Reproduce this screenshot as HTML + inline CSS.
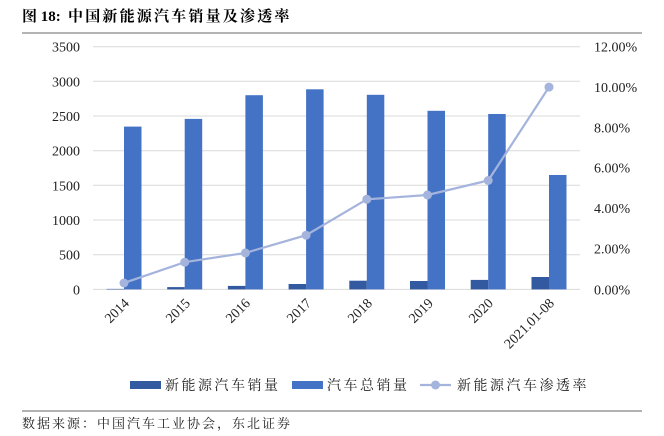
<!DOCTYPE html>
<html><head><meta charset="utf-8"><style>
html,body{margin:0;padding:0;background:#fff;}
svg{display:block;}
</style></head><body>
<svg width="664" height="436" xmlns="http://www.w3.org/2000/svg" font-family="Liberation Serif, 'Noto Serif CJK SC', serif">
<text x="22" y="21" font-size="15" font-weight="bold" font-family="Liberation Serif, 'Noto Serif CJK SC', serif">图 18:<tspan x="68" letter-spacing="2.2">中国新能源汽车销量及渗透率</tspan></text>
<line x1="22" y1="33" x2="642" y2="33" stroke="#888" stroke-width="1.2"/>
<g stroke="#d9d9d9" stroke-width="1">
<line x1="93" y1="46.7" x2="580" y2="46.7"/>
<line x1="93" y1="81.3" x2="580" y2="81.3"/>
<line x1="93" y1="116" x2="580" y2="116"/>
<line x1="93" y1="150.7" x2="580" y2="150.7"/>
<line x1="93" y1="185.3" x2="580" y2="185.3"/>
<line x1="93" y1="220" x2="580" y2="220"/>
<line x1="93" y1="254.7" x2="580" y2="254.7"/>
<line x1="93" y1="289.4" x2="580" y2="289.4"/>
</g>
<g font-size="14" text-anchor="end" fill="#222">
<text x="80" y="51.7">3500</text><text x="80" y="86.3">3000</text><text x="80" y="121">2500</text><text x="80" y="155.7">2000</text><text x="80" y="190.3">1500</text><text x="80" y="225">1000</text><text x="80" y="259.7">500</text><text x="80" y="294.4">0</text>
</g>
<g font-size="14" fill="#222">
<text x="594" y="51.7">12.00%</text><text x="594" y="92">10.00%</text><text x="594" y="132.4">8.00%</text><text x="594" y="172.7">6.00%</text><text x="594" y="213">4.00%</text><text x="594" y="253.4">2.00%</text><text x="594" y="294.4">0.00%</text>
</g>
<g fill="#4472c4">
<rect x="124" y="126.6" width="17.5" height="162.8"/>
<rect x="184.7" y="118.9" width="17.5" height="170.5"/>
<rect x="245.4" y="95.2" width="17.5" height="194.2"/>
<rect x="306.1" y="89.3" width="17.5" height="200.1"/>
<rect x="366.8" y="94.8" width="17.5" height="194.6"/>
<rect x="427.5" y="110.8" width="17.5" height="178.6"/>
<rect x="488.2" y="114" width="17.5" height="175.4"/>
<rect x="549" y="175" width="17.5" height="114.4"/>
</g>
<g fill="#335aa0">
<rect x="106.5" y="288.9" width="17.5" height="0.5"/>
<rect x="167.2" y="287.1" width="17.5" height="2.3"/>
<rect x="227.9" y="285.9" width="17.5" height="3.5"/>
<rect x="288.6" y="284" width="17.5" height="5.4"/>
<rect x="349.3" y="280.7" width="17.5" height="8.7"/>
<rect x="410" y="281" width="17.5" height="8.4"/>
<rect x="470.7" y="279.9" width="17.5" height="9.5"/>
<rect x="531.5" y="277" width="17.5" height="12.4"/>
</g>
<polyline fill="none" stroke="#a5b4dc" stroke-width="2.2" points="124,283 184.7,262.2 245.4,252.9 306.1,235.2 366.8,199.3 427.5,195 488.2,180.5 549,87.1"/>
<g fill="#a5b4dc">
<circle cx="124" cy="283" r="4.5"/><circle cx="184.7" cy="262.2" r="4.5"/><circle cx="245.4" cy="252.9" r="4.5"/><circle cx="306.1" cy="235.2" r="4.5"/><circle cx="366.8" cy="199.3" r="4.5"/><circle cx="427.5" cy="195" r="4.5"/><circle cx="488.2" cy="180.5" r="4.5"/><circle cx="549" cy="87.1" r="4.5"/>
</g>
<g font-size="14" fill="#222" text-anchor="end">
<text transform="translate(130,304) rotate(-45)">2014</text>
<text transform="translate(191,304) rotate(-45)">2015</text>
<text transform="translate(251,304) rotate(-45)">2016</text>
<text transform="translate(312,304) rotate(-45)">2017</text>
<text transform="translate(373,304) rotate(-45)">2018</text>
<text transform="translate(434,304) rotate(-45)">2019</text>
<text transform="translate(494,304) rotate(-45)">2020</text>
<text transform="translate(555,304) rotate(-45)">2021.01-08</text>
</g>
<g font-size="14" fill="#222" font-family="Liberation Serif, 'Noto Serif CJK SC', serif" letter-spacing="2.5">
<rect x="130" y="381" width="31" height="8" fill="#335aa0"/>
<text x="165" y="390">新能源汽车销量</text>
<rect x="292" y="381" width="31" height="8" fill="#4472c4"/>
<text x="327" y="390">汽车总销量</text>
<line x1="420" y1="385" x2="451" y2="385" stroke="#a5b4dc" stroke-width="2.2"/>
<circle cx="435.5" cy="385" r="4.5" fill="#a5b4dc"/>
<text x="457" y="390">新能源汽车渗透率</text>
</g>
<line x1="22" y1="411" x2="642" y2="411" stroke="#666" stroke-width="1"/>
<text x="22" y="428" font-size="13" fill="#222" font-family="Liberation Serif, 'Noto Serif CJK SC', serif" letter-spacing="2">数据来源：中国汽车工业协会，东北证券</text>
</svg>
</body></html>
